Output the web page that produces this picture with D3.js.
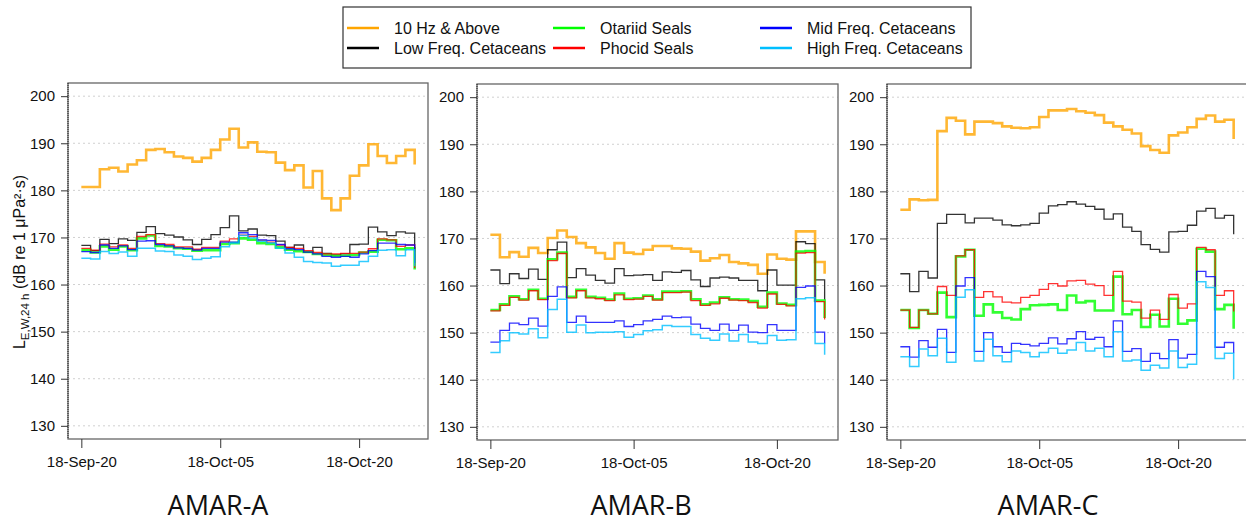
<!DOCTYPE html>
<html>
<head>
<meta charset="utf-8">
<script src="https://cdn.jsdelivr.net/npm/d3@7"></script>
<style>
  body { margin: 0; background: #fff; }
  text { font-family: "Liberation Sans", Arial, sans-serif; }
</style>
</head>
<body>
<svg id="chart" width="1246" height="523"></svg>
<script>
// daily values, first day 2018-09-20
const seriesNames = ["10 Hz & Above", "Low Freq. Cetaceans", "Otariid Seals",
                     "Phocid Seals", "Mid Freq. Cetaceans", "High Freq. Cetaceans"];
const yTicks = [130, 140, 150, 160, 170, 180, 190, 200];
const xTickDays = ["2018-09-20", "2018-10-05", "2018-10-20"];

const aHz10 = [180.7,180.7,184.5,184.8,184.0,185.5,186.4,188.6,188.8,188.1,187.2,186.9,186.1,186.9,188.6,190.8,193.1,189.1,190.2,188.2,188.1,185.9,184.3,185.3,180.6,184.1,178.3,175.8,178.3,183.1,185.3,189.8,187.3,185.8,187.3,188.6,185.5];
const aLf   = [168.3,167.2,169.6,168.7,169.7,169.4,171.1,172.3,170.8,170.5,170.1,169.5,168.5,169.6,170.6,172.1,174.6,171.4,171.8,170.5,170.4,169.2,167.9,168.4,166.9,167.9,166.6,166.3,166.5,168.5,168.6,172.2,171.2,170.4,171.2,170.9,167.0];
const aOta  = [167.3,166.8,168.1,167.4,168.1,167.3,169.8,170.4,168.2,168.1,167.7,167.6,167.2,167.3,167.3,168.6,168.8,169.8,169.5,168.8,168.6,167.9,167.4,167.1,166.9,166.5,166.3,166.1,166.1,166.3,166.8,167.0,169.5,169.4,167.5,167.7,163.2];
const aPho  = [167.7,167.3,168.6,168.0,168.4,167.7,170.2,170.6,168.7,168.5,168.0,168.0,167.5,167.9,167.9,169.2,169.7,170.5,170.2,169.4,169.0,168.4,167.9,167.7,167.2,166.8,166.5,166.5,166.6,166.6,166.9,167.6,169.7,169.5,168.1,168.4,163.5];
const aMf   = [167.0,166.8,168.4,167.7,168.2,167.4,169.2,169.3,168.5,168.2,167.8,167.7,167.3,167.7,167.7,169.0,169.0,171.0,170.6,169.5,169.4,168.5,167.6,167.4,166.9,166.5,166.0,165.8,166.0,165.8,166.5,167.2,168.8,168.8,168.5,168.4,164.6];
const aHf   = [165.6,165.4,167.0,166.6,166.9,166.0,167.7,167.7,167.1,167.0,166.3,166.0,165.3,165.6,165.9,168.0,168.8,170.4,169.9,169.2,168.8,167.7,166.7,165.8,164.9,164.7,164.6,163.9,164.1,164.1,164.9,166.0,167.3,167.4,166.1,167.4,163.9];

const bHz10 = [170.8,166.0,167.1,166.1,168.0,166.9,170.1,171.7,170.3,169.0,168.1,166.9,165.7,169.0,167.0,166.7,167.6,168.4,168.4,167.9,167.8,167.2,165.3,165.8,166.5,165.0,164.7,164.4,162.5,166.6,165.7,165.5,171.5,171.5,165.0,162.5];
const bLf   = [163.3,160.4,162.5,161.5,163.5,161.3,167.6,169.2,161.7,163.6,162.2,161.1,160.5,163.6,162.1,162.2,162.3,161.1,162.9,162.8,163.2,161.2,159.8,161.6,161.8,161.6,161.1,161.1,158.9,163.3,160.1,160.1,169.3,168.9,161.2,157.0];
const bOta  = [154.8,156.0,157.7,157.1,159.1,157.2,165.6,167.0,157.6,159.1,157.6,157.4,157.0,158.3,157.2,157.3,157.9,157.1,158.7,158.7,158.8,157.1,156.0,156.4,157.5,157.1,157.0,156.7,155.5,158.5,156.2,155.9,167.2,167.3,156.8,153.1];
const bPho  = [154.6,155.8,157.5,156.9,158.9,157.0,165.3,166.8,157.4,158.9,157.4,157.2,156.8,158.0,157.0,157.1,157.7,156.9,158.5,158.5,158.6,156.8,155.8,156.1,157.3,156.9,156.8,156.4,155.2,158.2,156.0,155.7,166.9,167.0,156.6,152.8];
const bMf   = [148.0,150.5,152.0,151.7,153.1,151.4,157.7,159.7,152.2,153.5,152.2,152.2,152.2,152.5,151.3,151.7,152.5,152.8,153.5,153.2,153.3,151.8,150.9,150.5,151.8,150.5,151.6,150.1,150.0,151.7,150.5,150.5,159.6,159.9,150.1,147.7];
const bHf   = [145.8,148.3,150.0,149.7,150.8,148.9,154.9,157.1,150.1,151.6,150.0,150.1,150.1,150.2,149.0,149.6,150.4,150.6,151.5,151.3,151.3,149.6,148.8,148.4,149.7,148.2,149.6,148.0,147.7,149.4,148.4,148.5,157.2,157.4,147.7,145.3];

const cHz10 = [176.1,178.3,178.1,178.2,192.8,195.6,195.0,192.1,194.8,194.8,194.5,193.8,193.5,193.4,193.6,195.8,197.2,197.2,197.5,197.0,196.7,196.2,194.6,193.8,193.1,192.3,189.6,188.8,188.2,191.9,192.5,193.6,195.4,196.1,194.8,195.2,191.1];
const cLf   = [162.5,158.7,163.0,161.6,173.2,175.1,175.1,173.3,174.3,174.3,173.9,172.9,172.7,172.9,173.2,175.4,176.9,177.2,177.8,177.3,176.8,176.2,174.1,175.2,172.4,171.5,168.7,167.7,167.1,171.4,171.5,172.8,175.8,176.4,174.3,174.9,170.9];
const cOta  = [154.8,151.0,154.8,154.0,158.5,153.3,166.2,167.6,153.6,156.0,154.3,153.1,152.8,155.0,155.8,155.9,156.0,154.8,157.9,156.4,156.7,154.7,154.7,161.9,153.9,154.8,151.2,153.8,151.3,157.2,151.9,152.6,167.8,167.2,155.0,155.9,150.8];
const cPho  = [154.8,151.1,154.8,154.0,159.8,157.9,166.3,167.6,157.5,158.7,157.6,156.5,156.3,157.5,157.9,159.2,160.4,159.9,161.0,161.1,160.3,160.0,157.9,163.0,156.7,156.5,153.1,154.8,152.8,158.1,155.2,156.1,168.1,167.6,157.9,158.9,154.5];
const cMf   = [147.0,144.8,148.3,146.9,150.7,145.8,159.9,161.7,146.0,150.0,147.0,145.8,147.7,147.5,147.2,147.7,148.9,147.6,148.7,150.2,148.6,149.0,147.0,152.5,146.0,146.6,143.9,145.6,144.5,148.5,144.6,145.4,163.0,161.9,146.9,147.9,145.6];
const cHf   = [144.9,142.8,146.5,145.1,148.8,143.7,157.5,159.1,144.0,148.6,145.1,143.8,146.1,145.8,144.9,145.8,146.7,145.6,146.3,147.9,146.1,146.7,144.9,150.2,144.0,144.2,142.0,143.1,142.5,146.1,142.6,143.3,160.8,159.6,144.5,145.6,140.1];

const colors = ["#ffa500", "#000000", "#00ff00", "#ff0000", "#0000ff", "#00bfff"];
const widths = [2.6, 1.3, 2.6, 1.3, 1.3, 1.5];

const panels = [
  { title: "AMAR-A", titleX: 218, l: 68,  r: 428,  t: 83, b: 439, series: [aHz10, aLf, aOta, aPho, aMf, aHf] },
  { title: "AMAR-B", titleX: 641, l: 477, r: 838,  t: 84, b: 440, series: [bHz10, bLf, bOta, bPho, bMf, bHf] },
  { title: "AMAR-C", titleX: 1048, l: 887, r: 1247, t: 84, b: 440, series: [cHz10, cLf, cOta, cPho, cMf, cHf] }
];

const svg = d3.select("#chart");
const start = new Date(Date.UTC(2018, 8, 20));
const DAY = 864e5;
const dayDate = i => new Date(+start + i * DAY);
const fmt = d3.utcFormat("%y-%b-%d");
const tickDates = xTickDays.map(s => new Date(s + "T00:00:00Z"));

panels.forEach(p => {
  const n = p.series[0].length;
  const pad = 0.04 * (n - 1);
  const x = d3.scaleUtc()
    .domain([dayDate(-pad), dayDate(n - 1 + pad)])
    .range([p.l, p.r]);
  const y = d3.scaleLinear().domain([127.2, 202.8]).range([p.b, p.t]);

  const g = svg.append("g");

  // grid
  g.selectAll("line.grid")
    .data(yTicks)
    .enter()
    .append("line")
    .attr("x1", p.l).attr("x2", p.r)
    .attr("y1", d => y(d)).attr("y2", d => y(d))
    .attr("stroke", "#d0d0d0")
    .attr("stroke-width", 1)
    .attr("stroke-dasharray", "2,3");

  // step lines
  const line = d3.line()
    .x((d, i) => x(dayDate(i)))
    .y(d => y(d))
    .curve(d3.curveStepAfter);

  p.series.forEach((vals, k) => {
    g.append("path")
      .datum(vals)
      .attr("d", line)
      .attr("fill", "none")
      .attr("stroke", colors[k])
      .attr("stroke-width", widths[k])
      .attr("stroke-opacity", 0.8);
  });

  // box
  g.append("rect")
    .attr("x", p.l).attr("y", p.t)
    .attr("width", p.r - p.l).attr("height", p.b - p.t)
    .attr("fill", "none")
    .attr("stroke", "#666")
    .attr("stroke-width", 1.3);
  g.append("line")
    .attr("x1", p.l).attr("x2", p.l)
    .attr("y1", p.t).attr("y2", p.b)
    .attr("stroke", "#222")
    .attr("stroke-width", 1)
    .attr("stroke-dasharray", "1,1");

  const yAxis = g.append("g")
    .attr("transform", `translate(${p.l},0)`)
    .call(d3.axisLeft(y).tickValues(yTicks).tickSize(7).tickPadding(6));
  yAxis.select(".domain").remove();
  yAxis.selectAll("line").attr("stroke", "#333");
  yAxis.selectAll("text")
    .attr("font-size", 15)
    .attr("fill", "#111")
    .style("font-family", '"Liberation Sans", Arial, sans-serif');

  const xAxis = g.append("g")
    .attr("transform", `translate(0,${p.b})`)
    .call(d3.axisBottom(x).tickValues(tickDates).tickFormat(fmt).tickSize(9).tickPadding(8));
  xAxis.select(".domain").remove();
  xAxis.selectAll("line").attr("stroke", "#333");
  xAxis.selectAll("text")
    .attr("font-size", 15)
    .attr("fill", "#111")
    .style("font-family", '"Liberation Sans", Arial, sans-serif');

  svg.append("text")
    .attr("x", p.titleX).attr("y", 515)
    .attr("text-anchor", "middle")
    .attr("font-size", 27)
    .style("font-family", '"Open Sans", sans-serif')
    .attr("fill", "#111")
    .text(p.title);
});

// y label on the first panel
const yl = svg.append("text")
  .attr("transform", "translate(25,262) rotate(-90)")
  .attr("text-anchor", "middle")
  .attr("font-size", 16)
  .attr("fill", "#111");
yl.append("tspan").text("L");
yl.append("tspan").attr("font-size", 11.5).attr("dy", 4).text("E,W,24 h");
yl.append("tspan").attr("dy", -4).text(" (dB re 1 \u03bcPa\u00b2\u00b7s)");

// legend
const leg = svg.append("g");
leg.append("rect")
  .attr("x", 343).attr("y", 7).attr("width", 628).attr("height", 61)
  .attr("fill", "#fff").attr("stroke", "#333").attr("stroke-width", 1.2);
const legPos = [
  [347, 28], [347, 48], [553, 28], [553, 48], [760, 28], [760, 48]
];
seriesNames.forEach((name, k) => {
  const [lx, ly] = legPos[k];
  leg.append("line")
    .attr("x1", lx).attr("x2", lx + 32)
    .attr("y1", ly).attr("y2", ly)
    .attr("stroke", colors[k]).attr("stroke-width", 2.5);
  leg.append("text")
    .attr("x", lx + 47).attr("y", ly + 6)
    .attr("font-size", 16)
    .attr("fill", "#111")
    .text(name);
});
</script>
</body>
</html>
